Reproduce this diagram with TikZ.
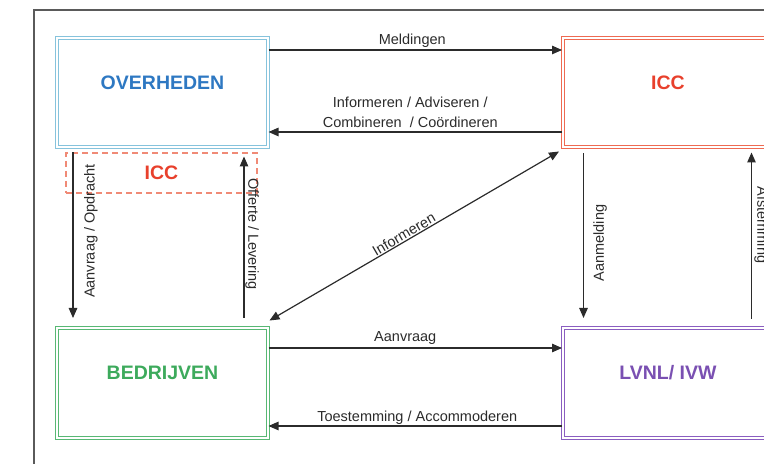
\documentclass[tikz,border=0pt]{standalone}
\usepackage{fontspec}
\setmainfont{Liberation Sans}
\usetikzlibrary{arrows.meta,calc}
\definecolor{ovline}{HTML}{86C3DC}
\definecolor{ovtext}{HTML}{2E78C2}
\definecolor{iccline}{HTML}{EE6A52}
\definecolor{icctext}{HTML}{E8402C}
\definecolor{iccdash}{HTML}{F08A76}
\definecolor{bedline}{HTML}{58B874}
\definecolor{bedtext}{HTML}{3DAA5C}
\definecolor{lvline}{HTML}{8A5EC0}
\definecolor{lvtext}{HTML}{7A50B2}
\definecolor{arrowgray}{HTML}{2B2B2B}
\definecolor{framegray}{HTML}{5A5A5A}
\begin{document}
\begin{tikzpicture}[x=1pt,y=1pt,
  box/.style={draw=#1, double=white, line width=1.4pt, double distance=1.6pt,
    minimum width=210.6pt, minimum height=108.6pt, inner sep=0pt},
  title/.style={text=#1, font=\fontsize{19.5}{22}\selectfont\bfseries, inner sep=0pt},
  lbl/.style={font=\fontsize{14.5}{19.5}\selectfont, text=arrowgray, inner sep=1pt},
  tip/.tip={Triangle[length=10pt,width=8.5pt]},
  arr/.style={draw=arrowgray, line width=1.2pt, -tip},
  darr/.style={draw=arrowgray, line width=1.2pt, tip-tip},
]
\useasboundingbox (0,0) rectangle (764,464);
\clip (0,0) rectangle (764,464);
\draw[framegray, line width=1.3pt] (34,-5) -- (34,454) -- (770,454);

% boxes
\node[box=ovline] (ov) at (162.5,371.5) {};
\node[box=iccline] (icc) at (668,371.5) {};
\node[box=bedline, minimum height=109.6pt] (bed) at (162.5,81) {};
\node[box=lvline, minimum height=109.6pt] (lv) at (668,81) {};

% titles
\node[title=ovtext] (ovtitle) at (162.5,381.5) {OVERHEDEN};
\node[title=icctext] (icctitle) at (668,381.5) {ICC};
\node[title=bedtext] (bedtitle) at (162.5,91.5) {BEDRIJVEN};
\node[title=lvtext] (lvtitle) at (668,91.5) {LVNL/ IVW};

% dashed ICC
\node[draw=iccdash, dash pattern=on 6pt off 4pt, line width=1.4pt,
  minimum width=191pt, minimum height=40pt, inner sep=0pt,
  text=icctext, font=\fontsize{19.5}{22}\selectfont\bfseries] (iccd) at (161.5,291) {ICC};

% horizontal arrows
\draw[arr] ([yshift=42.5pt]ov.east) -- node[lbl, above=1pt, xshift=-3pt] (lmeld) {Meldingen} ([yshift=42.5pt]icc.west);
\draw[arr] ([yshift=-39.5pt]icc.west) -- node[lbl, above=3pt, xshift=-5pt, align=center] (linf)
  {Informeren / Adviseren /\\Combineren\ \ / Coördineren} ([yshift=-39.5pt]ov.east);
\draw[arr] ([yshift=35pt]bed.east) -- node[lbl, above=2pt, xshift=-10pt] (laanv) {Aanvraag} ([yshift=35pt]lv.west);
\draw[arr] ([yshift=-43pt]lv.west) -- node[lbl, above=0pt, xshift=2pt] (ltoes) {Toestemming / Accommoderen} ([yshift=-43pt]bed.east);

% diagonal
\draw[darr] ([xshift=1pt,yshift=7pt]bed.north east) -- node[lbl, above, sloped, pos=0.476] (ldiag) {Informeren} ([xshift=-3pt,yshift=-4pt]icc.south west);

% vertical arrows
\draw[arr, shorten <=5pt] ([xshift=16.5pt]ov.south west) -- ([xshift=16.5pt,yshift=9.5pt]bed.north west);
\draw[arr] ([xshift=-24.5pt,yshift=9.5pt]bed.north east) -- ([xshift=-24.5pt,yshift=-9pt]ov.south east);
\draw[arr, shorten <=6pt] ([xshift=21.5pt]icc.south west) -- ([xshift=21.5pt,yshift=9.5pt]lv.north west);
\draw[arr] ([xshift=189.5pt,yshift=8.5pt]lv.north west) -- ([xshift=189.5pt,yshift=-5pt]icc.south west);

% vertical labels
\node[lbl, rotate=90] (lopdr) at (91,233) {Aanvraag / Opdracht};
\node[lbl, rotate=-90] (loff) at (252,230) {Offerte / Levering};
\node[lbl, rotate=90] (laanm) at (600,221) {Aanmelding};
\node[lbl, rotate=-90] (lafst) at (761,239) {Afstemming};
\end{tikzpicture}
\end{document}
